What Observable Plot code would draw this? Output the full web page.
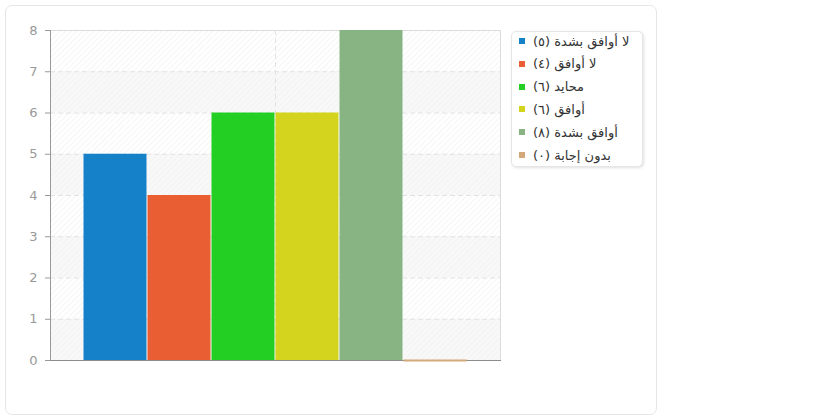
<!DOCTYPE html>
<html lang="ar">
<head>
<meta charset="utf-8">
<script src="https://cdn.jsdelivr.net/npm/d3@7"></script>
<script src="https://cdn.jsdelivr.net/npm/@observablehq/plot@0.6"></script>
<style>
  body { margin: 0; background: #fff; font-family: "DejaVu Sans", sans-serif; }
  #card { position: absolute; left: 5px; top: 5px; width: 650px; height: 408px;
          border: 1px solid #e6e6e6; border-radius: 7px; background: #fff; }
  #chart { position: absolute; left: 0; top: 0; }
  #legend { position: absolute; left: 511px; top: 31px; width: 130px; height: 134px;
            border: 1px solid #e6e6e6; border-radius: 5px; background: #fff;
            box-shadow: 1px 1px 3px rgba(0,0,0,0.12); }
  .item { position: absolute; left: 7px; height: 18px; display: flex; align-items: center;
          font-size: 13px; color: #333; white-space: nowrap; }
  .sw { width: 6px; height: 6px; margin-right: 8px; flex: none; }
  .lbl { direction: rtl; unicode-bidi: plaintext; }
</style>
</head>
<body>
<div id="card"></div>
<div id="chart"></div>
<div id="legend"></div>
<script>
// Survey answers and how many respondents chose each
const groups = ["الإجابات"];
const answers = ["لا أوافق بشدة", "لا أوافق", "محايد", "أوافق", "أوافق بشدة", "بدون إجابة"];
const counts = [5, 4, 6, 6, 8, 0];
const colors = ["#1581c8", "#e95f33", "#22cf22", "#d4d41e", "#88b382", "#d4a979"];
const yTicks = [0, 1, 2, 3, 4, 5, 6, 7, 8];

const rows = answers.map((a, i) => ({ group: groups[0], answer: a, count: counts[i] }));

// Alternating background bands between the y gridlines
const bands = yTicks.slice(1).map((t, i) => ({ y1: yTicks[i], y2: t, odd: (yTicks.length - 2 - i) % 2 === 1 }));

const plot = Plot.plot({
  width: 510,
  height: 420,
  marginLeft: 50,
  marginRight: 10,
  marginTop: 30,
  marginBottom: 60,
  style: { fontFamily: "DejaVu Sans, sans-serif", fontSize: "13px", color: "#999", background: "transparent" },
  fx: { domain: groups, padding: 0, axis: null },
  x: { domain: answers, paddingInner: 0, paddingOuter: 0.5, axis: null },
  y: { domain: [0, 8], axis: null },
  color: { domain: answers, range: colors },
  marks: [
    Plot.rect(bands.filter(b => !b.odd), { y1: "y1", y2: "y2", fill: "url(#hatch-a)" }),
    Plot.rect(bands.filter(b => b.odd), { y1: "y1", y2: "y2", fill: "url(#hatch-b)" }),
    Plot.gridY({ ticks: yTicks, stroke: "#e2e2e2", strokeOpacity: 1, strokeDasharray: "5,3" }),
    Plot.gridFx({ stroke: "#e2e2e2", strokeOpacity: 1, strokeDasharray: "5,3" }),
    Plot.frame({ stroke: "#dcdcdc" }),
    Plot.barY(rows, { fx: "group", x: "answer", y: "count", fill: "answer", insetLeft: 0.5, insetRight: 0.5 }),
    Plot.frame({ anchor: "left", stroke: "#999" }),
    Plot.frame({ anchor: "bottom", stroke: "#8c8c8c" }),
    // a zero count still shows as a thin line on the baseline
    Plot.tickY(rows, { filter: d => d.count === 0, fx: "group", x: "answer", y: "count", stroke: "answer", strokeWidth: 2, insetLeft: 0.5, insetRight: 0.5 }),
    Plot.axisY({ ticks: yTicks, tickSize: 5, tickPadding: 8, stroke: "#999", fill: "#999", tickFormat: d3.format("d") })
  ]
});

// Hatch patterns used by the background bands
const defs = d3.select(plot).insert("defs", ":first-child");
function hatch(id, bg, line) {
  const p = defs.append("pattern")
    .attr("id", id).attr("patternUnits", "userSpaceOnUse")
    .attr("width", 4).attr("height", 4)
    .attr("patternTransform", "rotate(45)");
  p.append("rect").attr("width", 4).attr("height", 4).attr("fill", bg);
  p.append("line").attr("x1", 0).attr("y1", 0).attr("x2", 0).attr("y2", 4)
    .attr("stroke", line).attr("stroke-width", 1.2);
}
hatch("hatch-a", "#ffffff", "#efefef");
hatch("hatch-b", "#f8f8f8", "#f1f1f1");

document.getElementById("chart").appendChild(plot);

// Legend: colour swatch followed by the answer and its count in Arabic digits
const arDigits = d3.format("d");
const toArabic = n => String(arDigits(n)).replace(/\d/g, c => "٠١٢٣٤٥٦٧٨٩"[c]);
const legend = d3.select("#legend");
answers.forEach((a, i) => {
  const item = legend.append("div").attr("class", "item").style("top", (0 + i * 22.8) + "px");
  item.append("div").attr("class", "sw").style("background", colors[i]);
  item.append("span").attr("class", "lbl").text(`${a} (${toArabic(counts[i])})`);
});
</script>
</body>
</html>
